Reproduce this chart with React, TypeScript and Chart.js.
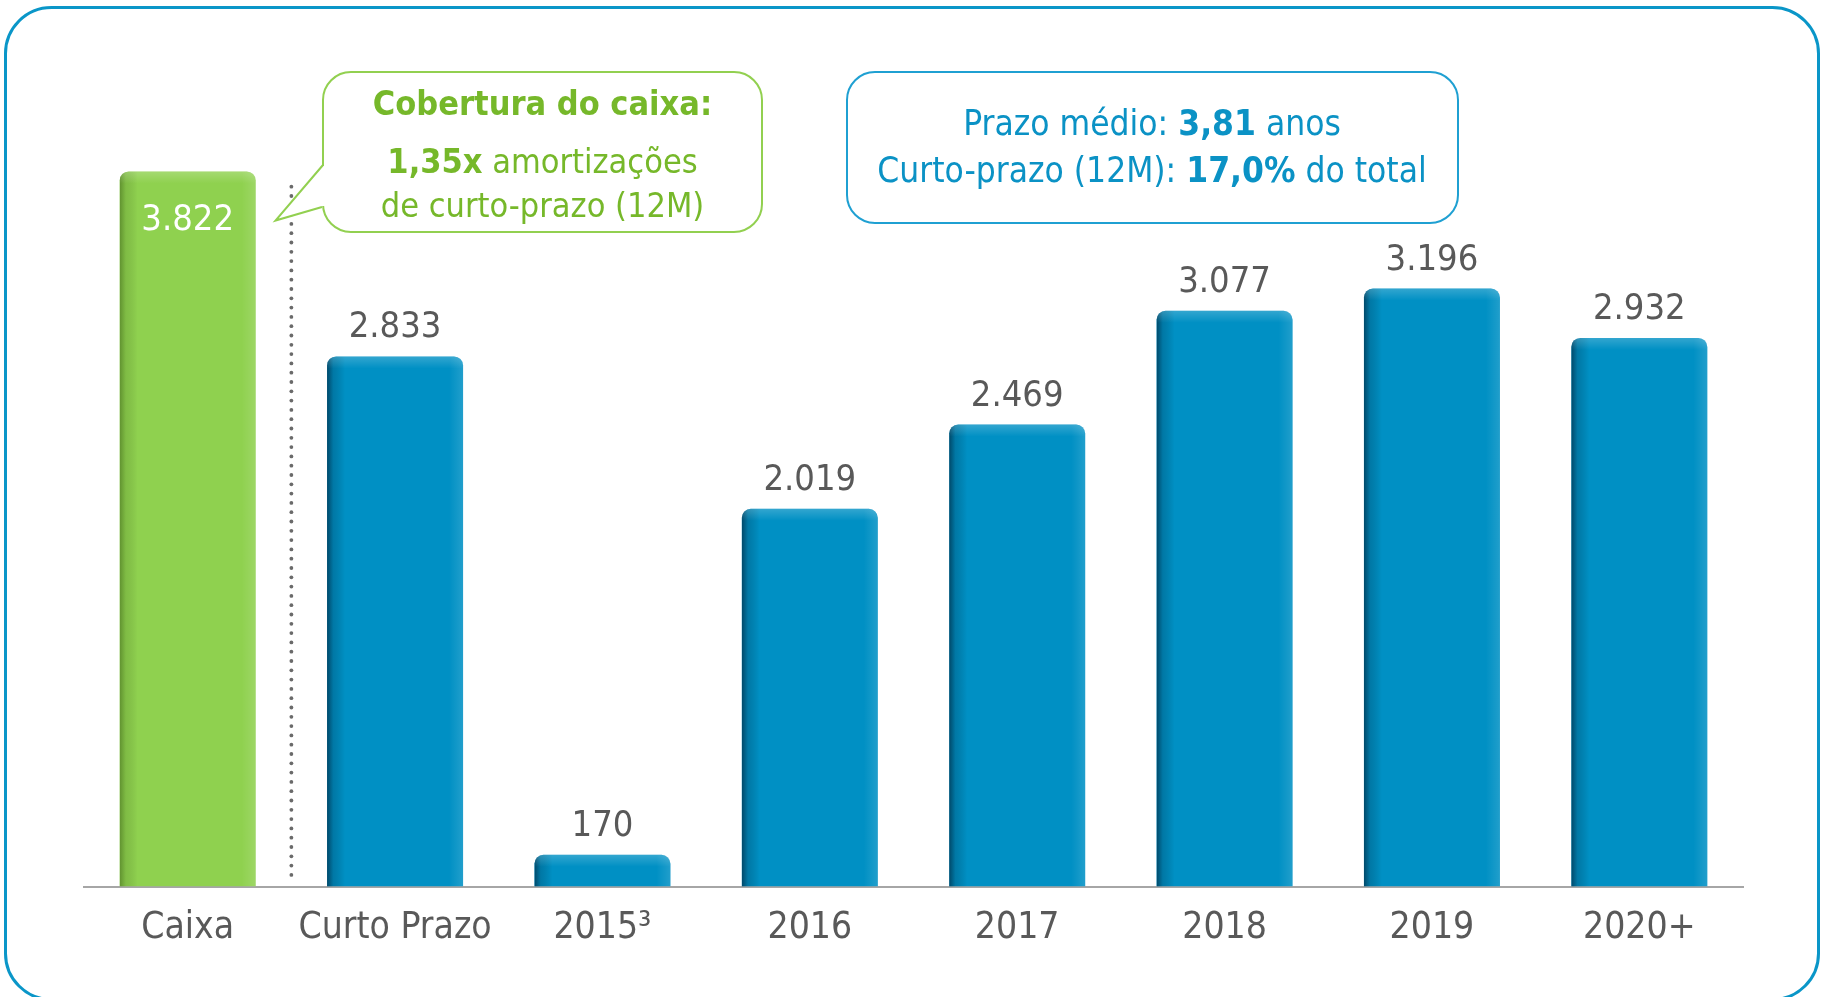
import React, { useEffect, useRef } from 'react';
import { Chart, registerables } from 'chart.js';

Chart.register(...registerables);

// ---------- data ----------
const categories = ['Caixa', 'Curto Prazo', '2015³', '2016', '2017', '2018', '2019', '2020+'];
const amounts = [3822, 2833, 170, 2019, 2469, 3077, 3196, 2932];
const barColors = ['#8fd14f', '#0090c4', '#0090c4', '#0090c4', '#0090c4', '#0090c4', '#0090c4', '#0090c4'];
const Y_MAX = 4500;
const SEPARATOR_TOP_VALUE = 3740;

const coverTitle = 'Cobertura do caixa:';
const coverLine2 = [
  { t: '1,35x', b: true },
  { t: ' amortizações', b: false },
];
const coverLine3 = 'de curto-prazo (12M)';
const termLine1 = [
  { t: 'Prazo médio: ', b: false },
  { t: '3,81', b: true },
  { t: ' anos', b: false },
];
const termLine2 = [
  { t: 'Curto-prazo (12M): ', b: false },
  { t: '17,0%', b: true },
  { t: ' do total', b: false },
];

// ---------- styles ----------
const FONT = '"DejaVu Sans Condensed", "DejaVu Sans", sans-serif';
const GRAY_TEXT = '#595959';
const FRAME_BLUE = '#0a96c8';
const GREEN_TEXT = '#76b82a';
const GREEN_LINE = '#92d050';
const BLUE_TEXT = '#0b92c5';

function fmt(n: number): string {
  return String(n).replace(/\B(?=(\d{3})+(?!\d))/g, '.');
}

type Run = { t: string; b: boolean };

function drawRuns(ctx: CanvasRenderingContext2D, runs: Run[], cx: number, y: number, size: number, color: string) {
  const widths = runs.map((r) => {
    ctx.font = `${r.b ? 'bold ' : ''}${size}px ${FONT}`;
    return ctx.measureText(r.t).width;
  });
  const total = widths.reduce((a, b) => a + b, 0);
  let x = cx - total / 2;
  ctx.textAlign = 'left';
  ctx.textBaseline = 'alphabetic';
  ctx.fillStyle = color;
  runs.forEach((r, i) => {
    ctx.font = `${r.b ? 'bold ' : ''}${size}px ${FONT}`;
    ctx.fillText(r.t, x, y);
    x += widths[i];
  });
}

const decorPlugin = {
  id: 'decor',
  beforeDraw(chart: any) {
    const ctx: CanvasRenderingContext2D = chart.ctx;
    ctx.save();
    ctx.fillStyle = '#ffffff';
    ctx.fillRect(0, 0, chart.width, chart.height);
    ctx.strokeStyle = FRAME_BLUE;
    ctx.lineWidth = 3;
    ctx.beginPath();
    (ctx as any).roundRect(5.5, 7.5, 1813, 992, 46);
    ctx.stroke();
    ctx.restore();
  },
  afterDatasetsDraw(chart: any) {
    const ctx: CanvasRenderingContext2D = chart.ctx;
    const meta = chart.getDatasetMeta(0);
    const xs = chart.scales.x;
    const ys = chart.scales.y;

    // bar shading + value labels
    meta.data.forEach((el: any, i: number) => {
      const p = el.getProps(['x', 'y', 'base', 'width'], true);
      const l = p.x - p.width / 2;
      const t = p.y;
      const w = p.width;
      const h = p.base - p.y;
      ctx.save();
      ctx.beginPath();
      (ctx as any).roundRect(l, t, w, h, [9, 9, 0, 0]);
      ctx.clip();
      let g = ctx.createLinearGradient(l, 0, l + 18, 0);
      g.addColorStop(0, i === 0 ? 'rgba(40,70,10,0.45)' : 'rgba(0,25,45,0.6)');
      g.addColorStop(0.35, i === 0 ? 'rgba(40,70,10,0.15)' : 'rgba(0,25,45,0.2)');
      g.addColorStop(1, 'rgba(0,0,0,0)');
      ctx.fillStyle = g;
      ctx.fillRect(l, t, 18, h);
      g = ctx.createLinearGradient(l + w - 14, 0, l + w, 0);
      g.addColorStop(0, 'rgba(255,255,255,0)');
      g.addColorStop(1, 'rgba(255,255,255,0.13)');
      ctx.fillStyle = g;
      ctx.fillRect(l + w - 14, t, 14, h);
      g = ctx.createLinearGradient(0, t, 0, t + 12);
      g.addColorStop(0, 'rgba(255,255,255,0.2)');
      g.addColorStop(1, 'rgba(255,255,255,0)');
      ctx.fillStyle = g;
      ctx.fillRect(l, t, w, 12);
      ctx.restore();

      ctx.save();
      ctx.font = `36px ${FONT}`;
      ctx.textAlign = 'center';
      ctx.textBaseline = 'alphabetic';
      if (i === 0) {
        ctx.fillStyle = '#ffffff';
        ctx.fillText(fmt(amounts[i]), p.x, t + 59);
      } else {
        ctx.fillStyle = GRAY_TEXT;
        ctx.fillText(fmt(amounts[i]), p.x, t - 19);
      }
      ctx.restore();
    });

    // dotted separator
    const sx = (xs.getPixelForValue(0) + xs.getPixelForValue(1)) / 2;
    const top = ys.getPixelForValue(SEPARATOR_TOP_VALUE);
    const bottom = ys.getPixelForValue(0);
    ctx.save();
    ctx.fillStyle = '#6a6a6a';
    for (let y = top; y < bottom - 3; y += 9.3) {
      ctx.beginPath();
      ctx.arc(sx, y, 1.9, 0, Math.PI * 2);
      ctx.fill();
    }
    ctx.restore();

    // green callout
    ctx.save();
    ctx.fillStyle = '#ffffff';
    ctx.strokeStyle = GREEN_LINE;
    ctx.lineWidth = 2;
    ctx.beginPath();
    (ctx as any).roundRect(323, 72, 439, 160, 28);
    ctx.fill();
    ctx.stroke();
    ctx.fillRect(320, 166, 6, 40);
    ctx.beginPath();
    ctx.moveTo(323, 165);
    ctx.lineTo(275.5, 220.5);
    ctx.lineTo(322, 207);
    ctx.closePath();
    ctx.fill();
    ctx.beginPath();
    ctx.moveTo(323, 165);
    ctx.lineTo(275.5, 220.5);
    ctx.lineTo(322, 207);
    ctx.stroke();
    drawRuns(ctx, [{ t: coverTitle, b: true }], 542.5, 115, 34, GREEN_TEXT);
    drawRuns(ctx, coverLine2, 542.5, 173, 34, GREEN_TEXT);
    drawRuns(ctx, [{ t: coverLine3, b: false }], 542.5, 217, 34, GREEN_TEXT);
    ctx.restore();

    // blue callout
    ctx.save();
    ctx.fillStyle = '#ffffff';
    ctx.strokeStyle = '#1fa0d2';
    ctx.lineWidth = 2;
    ctx.beginPath();
    (ctx as any).roundRect(847, 72, 611, 151, 28);
    ctx.fill();
    ctx.stroke();
    drawRuns(ctx, termLine1, 1152, 135, 35, BLUE_TEXT);
    drawRuns(ctx, termLine2, 1152, 182, 35, BLUE_TEXT);
    ctx.restore();
  },
};

export default function App() {
  const ref = useRef<HTMLCanvasElement | null>(null);
  useEffect(() => {
    if (!ref.current) return;
    const chart = new Chart(ref.current, {
      type: 'bar',
      data: {
        labels: categories,
        datasets: [
          {
            data: amounts,
            backgroundColor: barColors,
            borderWidth: 0,
            borderRadius: 9,
            borderSkipped: 'start',
            categoryPercentage: 1,
            barPercentage: 0.656,
          },
        ],
      },
      options: {
        animation: false,
        responsive: true,
        maintainAspectRatio: false,
        layout: { padding: { left: 84, right: 82, top: 44.5, bottom: 27 } },
        plugins: { legend: { display: false }, tooltip: { enabled: false } },
        scales: {
          x: {
            grid: { display: false, drawTicks: false },
            border: { display: true, color: '#a6a6a6', width: 2 },
            ticks: { color: GRAY_TEXT, font: { family: FONT, size: 37 }, padding: 19.5, maxRotation: 0, autoSkip: false },
          },
          y: { display: false, min: 0, max: Y_MAX },
        },
      },
      plugins: [decorPlugin],
    });
    return () => chart.destroy();
  }, []);
  return (
    <div style={{ position: 'absolute', left: 0, top: 0, width: 1825, height: 997 }}>
      <canvas ref={ref} />
    </div>
  );
}
